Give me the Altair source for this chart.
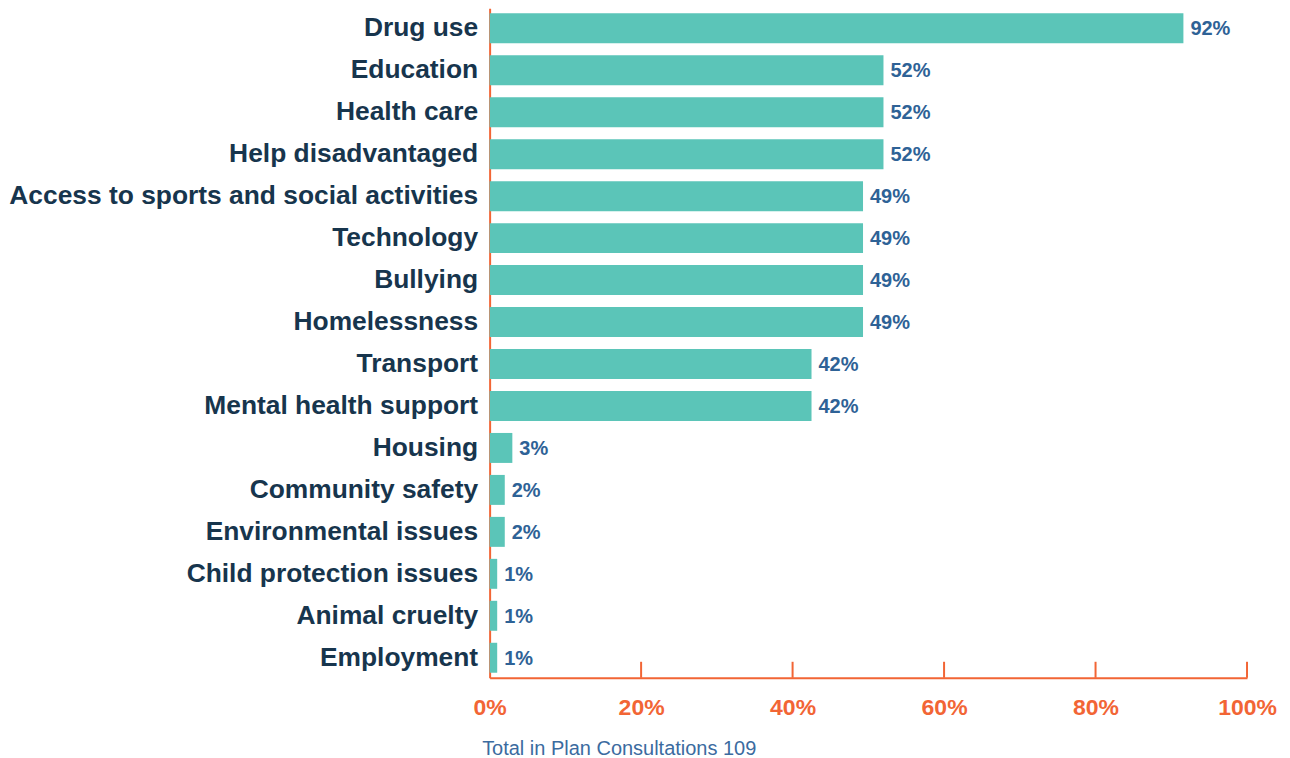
import altair as alt
import pandas as pd

categories = [
    "Drug use", "Education", "Health care", "Help disadvantaged",
    "Access to sports and social activities", "Technology", "Bullying",
    "Homelessness", "Transport", "Mental health support", "Housing",
    "Community safety", "Environmental issues", "Child protection issues",
    "Animal cruelty", "Employment",
]
values = [91.6, 52, 52, 52, 49.3, 49.3, 49.3, 49.3, 42.5, 42.5, 3, 2, 2, 1, 1, 1]
value_labels = ["92%", "52%", "52%", "52%", "49%", "49%", "49%", "49%",
                "42%", "42%", "3%", "2%", "2%", "1%", "1%", "1%"]
tick_values = [0, 20, 40, 60, 80, 100]
axis_title = "Total in Plan Consultations 109"

df = pd.DataFrame({"category": categories, "value": values, "label": value_labels})
ticks_df = pd.DataFrame({"value": tick_values[1:]})

W, H = 758, 670
FONT = "Liberation Sans"
ORANGE = "#f26535"
TEAL = "#5bc5b8"
NAVY = "#17354d"
BLUE = "#2e6296"

x_scale = alt.Scale(domain=[0, 100], nice=False, zero=True)
y_scale = alt.Scale(paddingInner=0.286, paddingOuter=0.12)

x_axis = alt.Axis(
    values=tick_values, labelExpr="datum.value + '%'", grid=False, ticks=False,
    domainColor=ORANGE, domainWidth=2, labelColor=ORANGE, labelFont=FONT,
    labelFontSize=23, labelFontWeight="bold", labelPadding=19,
    title=axis_title, titleFont=FONT, titleFontSize=20, titleFontWeight="normal",
    titleColor="#3b6ba0", titleAnchor="start", titleAlign="left", titleX=-8,
    titlePadding=19, labelFlush=False,
)
y_axis = alt.Axis(
    title=None, ticks=False, grid=False, domainColor=ORANGE, domainWidth=2,
    labelFont=FONT, labelFontSize=26.4, labelFontWeight="bold", labelColor=NAVY,
    labelPadding=12, labelLimit=0, minExtent=478, maxExtent=478,
)

bars = alt.Chart(df).mark_bar(color=TEAL).encode(
    x=alt.X("value:Q", scale=x_scale, axis=x_axis, title=axis_title),
    y=alt.Y("category:N", sort=categories, scale=y_scale, axis=y_axis),
)

texts = alt.Chart(df).mark_text(
    align="left", baseline="middle", dx=7, dy=1, font=FONT, fontSize=20,
    fontWeight="bold", color=BLUE,
).encode(
    x=alt.X("value:Q", scale=x_scale, title=axis_title),
    y=alt.Y("category:N", sort=categories, scale=y_scale),
    text="label:N",
)

tick_rules = alt.Chart(ticks_df).mark_rule(color=ORANGE, strokeWidth=2).encode(
    x=alt.X("value:Q", scale=x_scale, title=axis_title),
    y=alt.value(H - 16),
    y2=alt.value(H),
)

chart = alt.layer(bars, texts, tick_rules).properties(
    width=W, height=H, background="white",
    padding={"left": 0, "top": 0, "right": 5, "bottom": 5},
).configure_view(strokeWidth=0, stroke=None)

chart.save("out.html", embed_options={"renderer": "svg", "actions": False})
